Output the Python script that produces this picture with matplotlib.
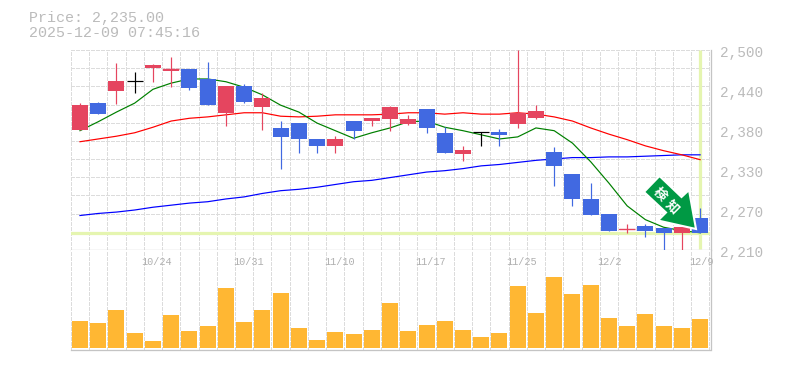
from __future__ import annotations

import matplotlib
matplotlib.use("Agg")
import matplotlib.pyplot as plt
from matplotlib.patches import Polygon
from matplotlib.transforms import Bbox
import numpy as np

WIDTH, HEIGHT = 785, 370

DATE_POS = [4, 9, 14, 19, 24, 29, 34]
DATE_LABELS = ["10/24", "10/31", "11/10", "11/17", "11/25", "12/2", "12/9"]
PRICE_LABELS = ["2,500", "2,440", "2,380", "2,330", "2,270", "2,210"]
PRICE_LABEL_POS = [2496, 2438, 2380, 2322, 2264, 2206]
LAST_PRICE = 2235

OPEN = [2384, 2423, 2441, 2455, 2474, 2470, 2472, 2458, 2409, 2448, 2417, 2387,
        2394, 2371, 2361, 2397, 2397, 2400, 2393, 2414, 2380, 2349, 2381, 2381,
        2393, 2401, 2352, 2320, 2284, 2262, 2239, 2245, 2242, 2235, 2256]
HIGH = [2423, 2425, 2481, 2468, 2480, 2490, 2472, 2483, 2448, 2451, 2438, 2397,
        2394, 2371, 2375, 2397, 2401, 2419, 2406, 2414, 2388, 2361, 2381, 2385,
        2500, 2420, 2359, 2320, 2307, 2262, 2248, 2248, 2242, 2243, 2271]
LOW = [2384, 2407, 2422, 2438, 2454, 2446, 2442, 2420, 2390, 2423, 2384, 2327,
       2351, 2351, 2351, 2371, 2390, 2383, 2391, 2380, 2351, 2339, 2361, 2361,
       2387, 2400, 2303, 2274, 2261, 2238, 2235, 2229, 2209, 2210, 2235]
CLOSE = [2420, 2407, 2455, 2455, 2478, 2472, 2445, 2420, 2448, 2425, 2430, 2374,
         2371, 2361, 2371, 2383, 2401, 2417, 2400, 2387, 2351, 2355, 2381, 2377,
         2409, 2412, 2332, 2284, 2261, 2238, 2240, 2238, 2235, 2243, 2235]

MA_SHORT = [2383, 2396, 2410, 2423, 2443, 2452, 2458, 2458, 2454, 2446, 2435, 2420,
            2410, 2394, 2383, 2372, 2380, 2387, 2396, 2397, 2388, 2383, 2377, 2371,
            2374, 2387, 2383, 2365, 2338, 2307, 2274, 2254, 2243, 2238, 2235]
MA_MID = [2367, 2371, 2375, 2380, 2388, 2397, 2401, 2403, 2406, 2409, 2409, 2404,
          2403, 2404, 2406, 2406, 2406, 2407, 2409, 2409, 2407, 2409, 2407, 2407,
          2409, 2407, 2403, 2397, 2387, 2378, 2370, 2361, 2354, 2348, 2341]
MA_LONG = [2260, 2263, 2265, 2268, 2272, 2275, 2278, 2280, 2284, 2287, 2292, 2296,
           2298, 2301, 2305, 2309, 2311, 2315, 2319, 2323, 2325, 2328, 2332, 2334,
           2337, 2340, 2342, 2344, 2344, 2345, 2345, 2346, 2347, 2348, 2348]

VOLUME = [27, 25, 38, 15, 7, 33, 17, 22, 60, 26, 38, 55, 20, 8, 16, 14, 18, 45,
          17, 23, 27, 18, 11, 15, 62, 35, 71, 54, 63, 30, 22, 34, 22, 20, 29]

UP = "#E5455F"
DOWN = "#4169E1"
GRID = "#DCDCDC"
BORDER = "#C4C4C4"
TEXT = "#BBBBBB"
PALE = "#E5F5B0"
ARROW = "#009944"
PX = 0.72  # one pixel in points at dpi 100
BODY_W = 0.877


def px_box(left, top, right, bottom):
    return Bbox.from_extents(left / WIDTH, 1 - bottom / HEIGHT, right / WIDTH, 1 - top / HEIGHT)


def style_axes(ax):
    ax.set_xlim(-0.52, 34.57)
    ax.set_xticks(np.arange(-0.5, 35))
    ax.tick_params(length=0, labelbottom=False, labelleft=False)
    ax.grid(axis="x", color=GRID, linewidth=PX, linestyle=(0, (3, 2)), clip_on=False,
            antialiased=False)
    ax.set_axisbelow(True)
    for side in ("left", "top"):
        ax.spines[side].set_visible(False)
    for side in ("right", "bottom"):
        ax.spines[side].set_color(BORDER)
        ax.spines[side].set_linewidth(PX * 1.3)


def draw_candles(ax, x):
    opens, closes = np.array(OPEN), np.array(CLOSE)
    colors = [UP if c > o else DOWN if c < o else "black" for o, c in zip(opens, closes)]
    ax.vlines(x, LOW, HIGH, colors=colors, linewidth=PX * 1.2, zorder=5)
    ax.bar(x, closes - opens, bottom=opens, width=BODY_W, color=colors, linewidth=0, zorder=6)
    flat = opens == closes
    ax.hlines(closes[flat], x[flat] - BODY_W / 2, x[flat] + BODY_W / 2,
              colors="black", linewidth=PX * 1.2, zorder=6)
    thin = np.abs(closes - opens) <= 2
    ax.hlines(closes[thin & ~flat], x[thin & ~flat] - BODY_W / 2, x[thin & ~flat] + BODY_W / 2,
              colors=UP, linewidth=PX * 1.4, zorder=6)


def draw_arrow(fig):
    outline = [(659.5, 176), (644, 192), (666, 212.5), (658, 220.5), (696, 229),
               (689, 190), (681.5, 197)]
    pts = [(x / WIDTH, 1 - y / HEIGHT) for x, y in outline]
    fig.add_artist(Polygon(pts, closed=True, facecolor=ARROW, edgecolor="white",
                           linewidth=1.5, joinstyle="miter", transform=fig.transFigure, zorder=10))
    for ch, x, y in (("検", 660, 194.5), ("知", 672.5, 207)):
        fig.text(x / WIDTH, 1 - y / HEIGHT, ch, color="white", fontsize=9.5, fontweight="bold",
                 family=["Noto Sans CJK JP", "DejaVu Sans"], rotation=-45,
                 ha="center", va="center", zorder=11)


def main():
    plt.rcParams["font.family"] = ["Liberation Mono", "DejaVu Sans Mono"]
    fig = plt.figure(figsize=(WIDTH / 100, HEIGHT / 100), dpi=100, facecolor="white")
    ax = fig.add_axes(px_box(70.5, 50, 710.5, 250))
    vol = fig.add_axes(px_box(70.5, 250, 710.5, 350))
    x = np.arange(len(OPEN))

    style_axes(ax)
    ax.set_ylim(2210, 2500)
    ax.set_yticks(np.linspace(2210, 2500, 12))
    ax.grid(axis="y", color=GRID, linewidth=PX, linestyle=(0, (3, 2)), clip_on=False,
            antialiased=False)

    ax.axhline(LAST_PRICE, xmax=0.9955, color=PALE, linewidth=PX * 3.2, zorder=2)
    ax.plot([x[-1], x[-1]], [2212, 2500], color=PALE, linewidth=PX * 3.2, zorder=2, solid_capstyle="butt")

    ax.plot(x, MA_LONG, color="#0000FF", linewidth=PX * 1.2, zorder=3)
    ax.plot(x, MA_MID, color="#FF0000", linewidth=PX * 1.2, zorder=3)
    ax.plot(x, MA_SHORT, color="#008000", linewidth=PX * 1.2, zorder=3)
    draw_candles(ax, x)

    y_trans = ax.get_yaxis_transform()
    for pos, label in zip(PRICE_LABEL_POS, PRICE_LABELS):
        ax.text(1.0148, pos, label, transform=y_trans, color=TEXT, fontsize=10.4,
                ha="left", va="center", clip_on=False)

    style_axes(vol)
    vol.set_ylim(-2, 98)
    vol.set_yticks([])
    vol.bar(x, VOLUME, width=BODY_W, color="#FFB733", linewidth=0, zorder=3)
    for pos, label in zip(DATE_POS, DATE_LABELS):
        vol.text(pos - 0.62, 86, label, color="#B0B0B0", fontsize=7.3, ha="left", va="center",
                 zorder=4, clip_on=False)

    fig.text(29 / WIDTH, 1 - 18 / HEIGHT, "Price: 2,235.00", color=TEXT, fontsize=10.8, va="center")
    fig.text(29 / WIDTH, 1 - 33 / HEIGHT, "2025-12-09 07:45:16", color=TEXT, fontsize=10.8, va="center")

    draw_arrow(fig)
    fig.savefig("out.png", dpi=100)
    plt.close(fig)


if __name__ == "__main__":
    main()
